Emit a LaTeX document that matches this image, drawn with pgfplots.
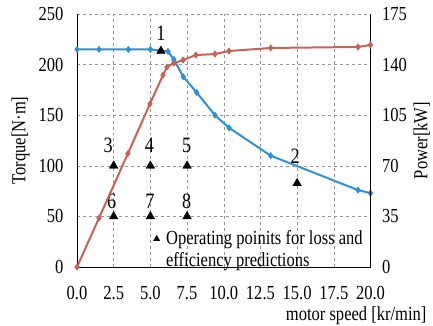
\documentclass[border=0pt]{standalone}
\usepackage{fontspec}
\setmainfont[FakeStretch=0.83]{Liberation Serif}
\usepackage{pgfplots}
\pgfplotsset{compat=1.18}
\definecolor{tblue}{RGB}{45,145,212}
\definecolor{pred}{RGB}{196,98,92}
\definecolor{gridc}{RGB}{150,150,150}
\newcommand{\ff}{\fontsize{20}{24}\selectfont}
\newcommand{\fl}{\fontsize{22}{26}\selectfont}
\begin{document}
\begin{tikzpicture}
\useasboundingbox (-77bp,-59bp) rectangle (356bp,267bp);
\begin{axis}[
  scale only axis, width=293.5bp, height=253bp,
  at={(0,0)}, anchor=south west,
  xmin=0, xmax=20, ymin=0, ymax=250,
  xtick={0,2.5,...,20}, ytick={0,50,...,250},
  axis x line*=bottom, axis y line*=left,
  x axis line style={-, line width=0.9pt}, y axis line style={-, line width=0.9pt},
  major tick length=0,
  grid=major, grid style={gridc, dashed, line width=0.5pt},
  /pgf/number format/assume math mode=true,
  xticklabel style={/pgf/number format/fixed, /pgf/number format/fixed zerofill, /pgf/number format/precision=1, yshift=-16bp},
  every tick label/.append style={font=\ff},
  yticklabel style={xshift=-10bp},
  ylabel={Torque[N·m]},
  ylabel style={font=\ff, at={(axis description cs:-0.176,0.5)}, anchor=base},
  xlabel={motor speed [kr/min]},
  xlabel style={font=\ff, at={(axis description cs:1.2027,-0.2095)}, anchor=base east},
  clip=false,
]
\addplot[color=tblue, line width=2pt, mark=diamond*, mark size=2pt] coordinates {
(0,215) (1.5,215) (3.5,215) (5,215) (6.2,213) (6.6,205) (7.24,188) (8.15,172.5) (9.4,150) (10.36,137.5) (13.2,110) (19.15,76) (20,73)
};
\addplot[only marks, mark=triangle*, mark size=5pt, color=black] coordinates {
(5.72,213.5) (15,82.7) (2.5,100) (5,100) (7.5,100) (2.5,50) (5,50) (7.5,50)
};
\addplot[only marks, mark=triangle*, mark size=3.6pt, color=black] coordinates {(5.43,27.7)};
\node[font=\fl] at (axis cs:5.72,231) {1};
\node[font=\fl] at (axis cs:14.86,109) {2};
\node[font=\fl] at (axis cs:2.13,120) {3};
\node[font=\fl] at (axis cs:4.93,120) {4};
\node[font=\fl] at (axis cs:7.47,120) {5};
\node[font=\fl] at (axis cs:2.36,64.5) {6};
\node[font=\fl] at (axis cs:4.97,64.5) {7};
\node[font=\fl] at (axis cs:7.47,64.5) {8};
\node[font=\ff, anchor=base west, inner sep=0pt] at (axis cs:6.06,22.7) {Operating poinits for loss and};
\node[font=\ff, anchor=base west, inner sep=0pt] at (axis cs:6.06,0.3) {efficiency predictions};
\end{axis}
\begin{axis}[
  scale only axis, width=293.5bp, height=253bp,
  at={(0,0)}, anchor=south west,
  xmin=0, xmax=20, ymin=0, ymax=175,
  axis x line=none, axis y line*=right,
  y axis line style={-, line width=0.9pt},
  ytick={0,35,...,175},
  major tick length=0,
  /pgf/number format/assume math mode=true,
  every tick label/.append style={font=\ff},
  yticklabel style={xshift=8bp},
  ylabel={Power[kW]},
  ylabel style={font=\ff, at={(axis description cs:1.194,0.5)}, anchor=base},
  clip=false,
]
\addplot[color=pred, line width=2pt, mark=diamond*, mark size=2pt] coordinates {
(0,0) (1.5,33.9) (3.47,78.5) (4.97,112.8) (5.86,132.8) (6.13,138.3) (6.6,141) (7.23,143.2) (8.1,146.6) (9.4,147.3) (10.36,149.4) (13.2,151.5) (19.15,152.2) (20,153.6)
};
\end{axis}
\end{tikzpicture}
\end{document}
